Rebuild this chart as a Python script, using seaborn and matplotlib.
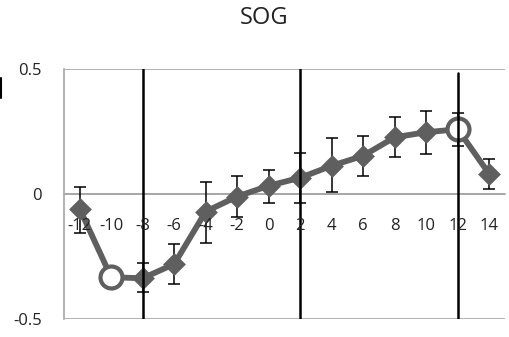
import numpy as np
import pandas as pd
import matplotlib
matplotlib.use("Agg")
import matplotlib.pyplot as plt
import seaborn as sns
from matplotlib.lines import Line2D

# Time offsets and mean SOG response with its error limits
offsets = [-12, -10, -8, -6, -4, -2, 0, 2, 4, 6, 8, 10, 12, 14]
sog = [-0.06, -0.333, -0.337, -0.28, -0.07, -0.01, 0.033, 0.065, 0.113, 0.153, 0.227, 0.247, 0.259, 0.08]
err_upper = [0.03, np.nan, -0.275, -0.20, 0.047, 0.072, 0.096, 0.163, 0.223, 0.232, 0.308, 0.331, 0.323, 0.141]
err_lower = [-0.155, np.nan, -0.393, -0.36, -0.195, -0.09, -0.037, -0.035, 0.007, 0.073, 0.147, 0.159, 0.192, 0.021]
# points shown as open circles
open_points = [-10, 12]
# event markers
event_lines = [-8, 2, 12]
yticks = [-0.5, 0, 0.5]

df = pd.DataFrame({"t": offsets, "sog": sog, "hi": err_upper, "lo": err_lower})
df["open"] = df["t"].isin(open_points)

sns.set_style("white")
plt.rcParams["font.family"] = ["Open Sans", "DejaVu Sans"]

fig = plt.figure(figsize=(5.09, 3.37), dpi=100)
ax = fig.add_axes([64 / 509, 1 - 319 / 337, (505 - 64) / 509, (319 - 69) / 337])

grey = "#5f5f5f"
grid = "#a6a6a6"

# horizontal gridlines
for yv in yticks:
    ax.axhline(yv, color=grid, lw=1.2, zorder=0)

# connecting line
sns.lineplot(data=df, x="t", y="sog", color=grey, lw=4.2, ax=ax, zorder=2,
             estimator=None, sort=False)

# error bars
eb = df.dropna()
ax.errorbar(eb["t"], eb["sog"], yerr=[eb["sog"] - eb["lo"], eb["hi"] - eb["sog"]],
            fmt="none", ecolor="black", elinewidth=1.1, capsize=4, capthick=1.1, zorder=3)

# filled diamonds and open circles
sns.scatterplot(data=df[~df["open"]], x="t", y="sog", marker="D", s=135,
                color=grey, edgecolor=grey, linewidth=0, ax=ax, zorder=4)
sns.scatterplot(data=df[df["open"]], x="t", y="sog", marker="o", s=250,
                facecolor="white", edgecolor=grey, linewidth=3, ax=ax, zorder=4)

# event markers
for xv in event_lines:
    top = 0.484 if xv == 12 else 0.5
    ax.plot([xv, xv], [-0.5, top], color="black", lw=1.8, zorder=5)

ax.set_xlim(-13, 15)
ax.set_ylim(-0.5, 0.5)
ax.set_xticks(offsets)
ax.set_xticklabels([str(v) for v in offsets])
ax.set_yticks(yticks)
ax.set_yticklabels(["-0.5", "0", "0.5"])
ax.set_xlabel("")
ax.set_ylabel("")

for s in ["top", "right"]:
    ax.spines[s].set_visible(False)
ax.spines["bottom"].set_position(("data", 0))
ax.spines["bottom"].set_color(grid)
ax.spines["bottom"].set_linewidth(1.2)
ax.spines["bottom"].set_zorder(0.5)
ax.spines["left"].set_color(grid)
ax.spines["left"].set_linewidth(1.2)
ax.tick_params(axis="x", length=0, pad=17, labelsize=12, colors="#222222")
ax.tick_params(axis="y", length=0, pad=16, labelsize=12, colors="#222222")
# category labels sit on top of the markers
ax.xaxis.set_zorder(6)
ax.patch.set_alpha(0)

fig.text(264 / 509, 1 - 18 / 337, "SOG", ha="center", va="center", fontsize=17, color="#222222")
fig.add_artist(Line2D([0.8 / 509, 0.8 / 509], [1 - 98 / 337, 1 - 78 / 337], color="black", lw=1.5))

fig.savefig("out.png", dpi=100)
